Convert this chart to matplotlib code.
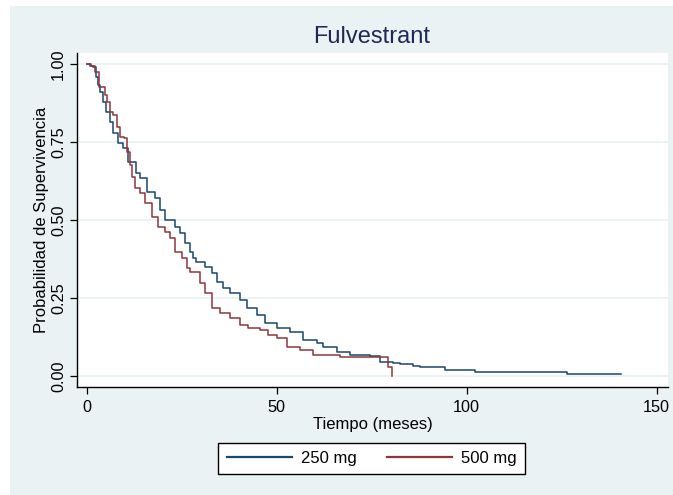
import matplotlib
matplotlib.use("Agg")
from matplotlib import pyplot as plt
from matplotlib.patches import Rectangle
import numpy as np

plt.rcParams['font.family'] = ['Liberation Sans', 'DejaVu Sans']

# Kaplan-Meier estimates (tiempo en meses, supervivencia)
t_250 = [0, 1.0, 1.7, 2.4, 3.0, 3.5, 4.4, 5.1, 6.1, 7.0, 8.3, 9.6, 10.9, 12.9, 14.0,
         15.8, 18.0, 19.3, 20.6, 23.2, 24.6, 25.9, 27.2, 28.0, 28.9, 31.1, 32.9, 34.2,
         35.9, 37.7, 40.3, 42.1, 44.7, 46.9, 50.0, 53.5, 57.0, 60.5, 62.3, 65.8, 69.3,
         74.5, 77.2, 80.7, 82.4, 86.0, 87.7, 94.3, 102.2, 126.3, 140.5]
s_250 = [1.0, 0.995, 0.99, 0.96, 0.934, 0.912, 0.88, 0.848, 0.816, 0.779, 0.747, 0.731,
         0.688, 0.651, 0.635, 0.592, 0.571, 0.533, 0.501, 0.479, 0.458, 0.426, 0.40,
         0.38, 0.367, 0.351, 0.33, 0.303, 0.282, 0.266, 0.245, 0.218, 0.196, 0.17, 0.154,
         0.143, 0.116, 0.106, 0.095, 0.079, 0.068, 0.065, 0.047, 0.044, 0.039, 0.033,
         0.031, 0.022, 0.015, 0.007, 0.007]

t_500 = [0, 1.2, 2.2, 3.3, 4.8, 5.3, 6.1, 7.0, 7.9, 8.8, 9.8, 10.5, 11.4, 11.8, 12.7,
         14.0, 15.3, 17.1, 18.8, 20.6, 21.9, 23.2, 25.0, 26.3, 27.2, 29.8, 31.1, 32.9,
         35.1, 37.7, 40.3, 42.5, 45.6, 47.8, 50.0, 52.6, 56.1, 59.6, 66.7, 79.2, 80.3]
s_500 = [1.0, 0.995, 0.976, 0.928, 0.90, 0.88, 0.848, 0.837, 0.80, 0.768, 0.763, 0.72,
         0.677, 0.64, 0.603, 0.587, 0.554, 0.512, 0.479, 0.463, 0.442, 0.40, 0.378,
         0.346, 0.335, 0.298, 0.266, 0.218, 0.202, 0.186, 0.164, 0.154, 0.148, 0.132,
         0.122, 0.095, 0.084, 0.068, 0.061, 0.031, 0.0]

etiquetas = ['250 mg', '500 mg']
colores = ['#1A476F', '#90353B']

W, H = 673, 495
fig = plt.figure(figsize=(W / 100, H / 100), dpi=100, facecolor='white')
# fondo estilo Stata
fig.add_artist(Rectangle((10 / W, 0), 1 - 10 / W, 1 - 6 / H, transform=fig.transFigure,
                         facecolor='#EAF2F3', edgecolor='none', zorder=0))

ax = fig.add_axes([77 / W, 1 - 387 / H, (668 - 77) / W, (387 - 53) / H])
ax.set_facecolor('white')

ax.plot(t_250, s_250, drawstyle='steps-post', color=colores[0], lw=1.1, label=etiquetas[0])
ax.plot(t_500, s_500, drawstyle='steps-post', color=colores[1], lw=1.1, label=etiquetas[1])

ax.set_xlim(-2.55, 153)
ax.set_ylim(-0.034, 1.036)
ax.set_xticks([0, 50, 100, 150])
ax.set_yticks([0, 0.25, 0.5, 0.75, 1.0])
ax.set_yticklabels(['0.00', '0.25', '0.50', '0.75', '1.00'], rotation=90, va='center')
ax.grid(axis='y', color='#EAF2F3', lw=1.3)
ax.set_axisbelow(True)

for s in ['top', 'right']:
    ax.spines[s].set_visible(False)
for s in ['left', 'bottom']:
    ax.spines[s].set_color('black')
    ax.spines[s].set_linewidth(1.0)
ax.tick_params(axis='both', labelsize=11.7, length=5, width=0.9, colors='black')
ax.tick_params(axis='x', pad=4)
ax.tick_params(axis='y', pad=3)

ax.set_xlabel('Tiempo (meses)', fontsize=12, labelpad=2)
ax.set_ylabel('Probabilidad de Supervivencia', fontsize=12, labelpad=1.5)
fig.text(372 / W, 1 - 37 / H, 'Fulvestrant', fontsize=17, color='#1E2A55',
         ha='center', va='center')

leg = fig.legend(loc='center', bbox_to_anchor=((218 + 525) / 2 / W, 1 - 458.5 / H),
                 ncol=2, fontsize=12, handlelength=3.9, handletextpad=0.55,
                 columnspacing=1.8, borderpad=0.5, fancybox=False, framealpha=1,
                 edgecolor='black', facecolor='white')
leg.get_frame().set_linewidth(1.0)
for ln in leg.get_lines():
    ln.set_linewidth(1.6)

fig.savefig('out.png', dpi=100, facecolor=fig.get_facecolor())
